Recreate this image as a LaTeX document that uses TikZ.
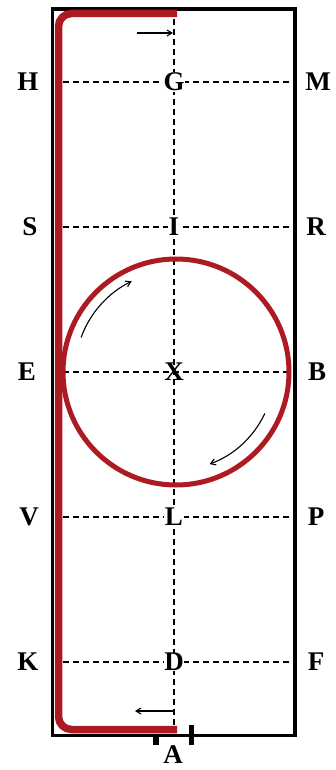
\documentclass[tikz,border=0pt]{standalone}
\usepackage{fontspec}
\setmainfont{Liberation Serif}
\usetikzlibrary{arrows.meta}
\definecolor{arena}{HTML}{AC1A22}
\begin{document}
\begin{tikzpicture}[x=1pt,y=-1pt,
  lbl/.style={font=\fontsize{27}{27}\selectfont\bfseries, inner sep=0.5pt},
  clbl/.style={lbl, fill=white},
  gridline/.style={dash pattern=on 6pt off 4pt, line width=1.1pt},
  frame/.style={line width=3.5pt},
  track/.style={arena, line width=7.5pt},
  dir/.style={line width=1.1pt, -{Straight Barb[length=5pt,width=6pt]}}]
\useasboundingbox (0,0) rectangle (336,770);
% frame corners
\coordinate (TL) at (52.5,9);
\coordinate (BR) at (295,735.5);
\draw[frame] (TL) rectangle (BR);
% letters
\node[lbl] (H) at (28,82) {H};
\node[lbl] (M) at (318,82) {M};
\node[lbl] (S) at (30,227) {S};
\node[lbl] (R) at (316,227) {R};
\node[lbl] (E) at (27,372) {E};
\node[lbl] (B) at (317,372) {B};
\node[lbl] (V) at (29,517) {V};
\node[lbl] (P) at (316,517) {P};
\node[lbl] (K) at (28,662) {K};
\node[lbl] (F) at (316,662) {F};
\node[lbl] (A) at (173,755) {A};
% grid line ends
\coordinate (vtop) at (174,19);
\coordinate (vbot) at (174,729);
\foreach \n/\y in {h/82,s/227,e/372,v/517,k/662}{
  \coordinate (\n l) at (63,\y);
  \coordinate (\n r) at (293,\y);
  \draw[gridline] (\n l) -- (\n r);
}
\draw[gridline] (vtop) -- (vbot);
% centre letters
\node[clbl] (G) at (174,82) {G};
\node[clbl] (I) at (174,227) {I};
\node[clbl, fill=none] (X) at (174,372) {X};
\node[clbl] (L) at (174,517) {L};
\node[clbl] (D) at (174,662) {D};
% track
\coordinate (t1) at (177,13.5);
\coordinate (t2) at (58.5,13.5);
\coordinate (t3) at (58.5,729.5);
\coordinate (t4) at (177,729.5);
\draw[track, rounded corners=13pt] (t1) -- (t2) -- (t3) -- (t4);
% circle
\coordinate (C) at (176,372);
\draw[arena, line width=5pt] (C) circle[radius=113];
% ticks
\coordinate (k1a) at (156,735); \coordinate (k1b) at (156,745);
\coordinate (k2a) at (191.5,725); \coordinate (k2b) at (191.5,745);
\draw[line width=5.5pt] (k1a) -- (k1b);
\draw[line width=5.5pt] (k2a) -- (k2b);
% direction arrows
\coordinate (a1) at (137,33); \coordinate (a2) at (173,33);
\draw[dir] (a1) -- (a2);
\coordinate (b1) at (173,711); \coordinate (b2) at (135,711);
\draw[dir] (b1) -- (b2);
\draw[dir] (C) ++(-160:101) arc[start angle=-160, end angle=-116, radius=101];
\draw[dir] (C) ++(25:98) arc[start angle=25, end angle=70, radius=98];
\end{tikzpicture}
\end{document}
